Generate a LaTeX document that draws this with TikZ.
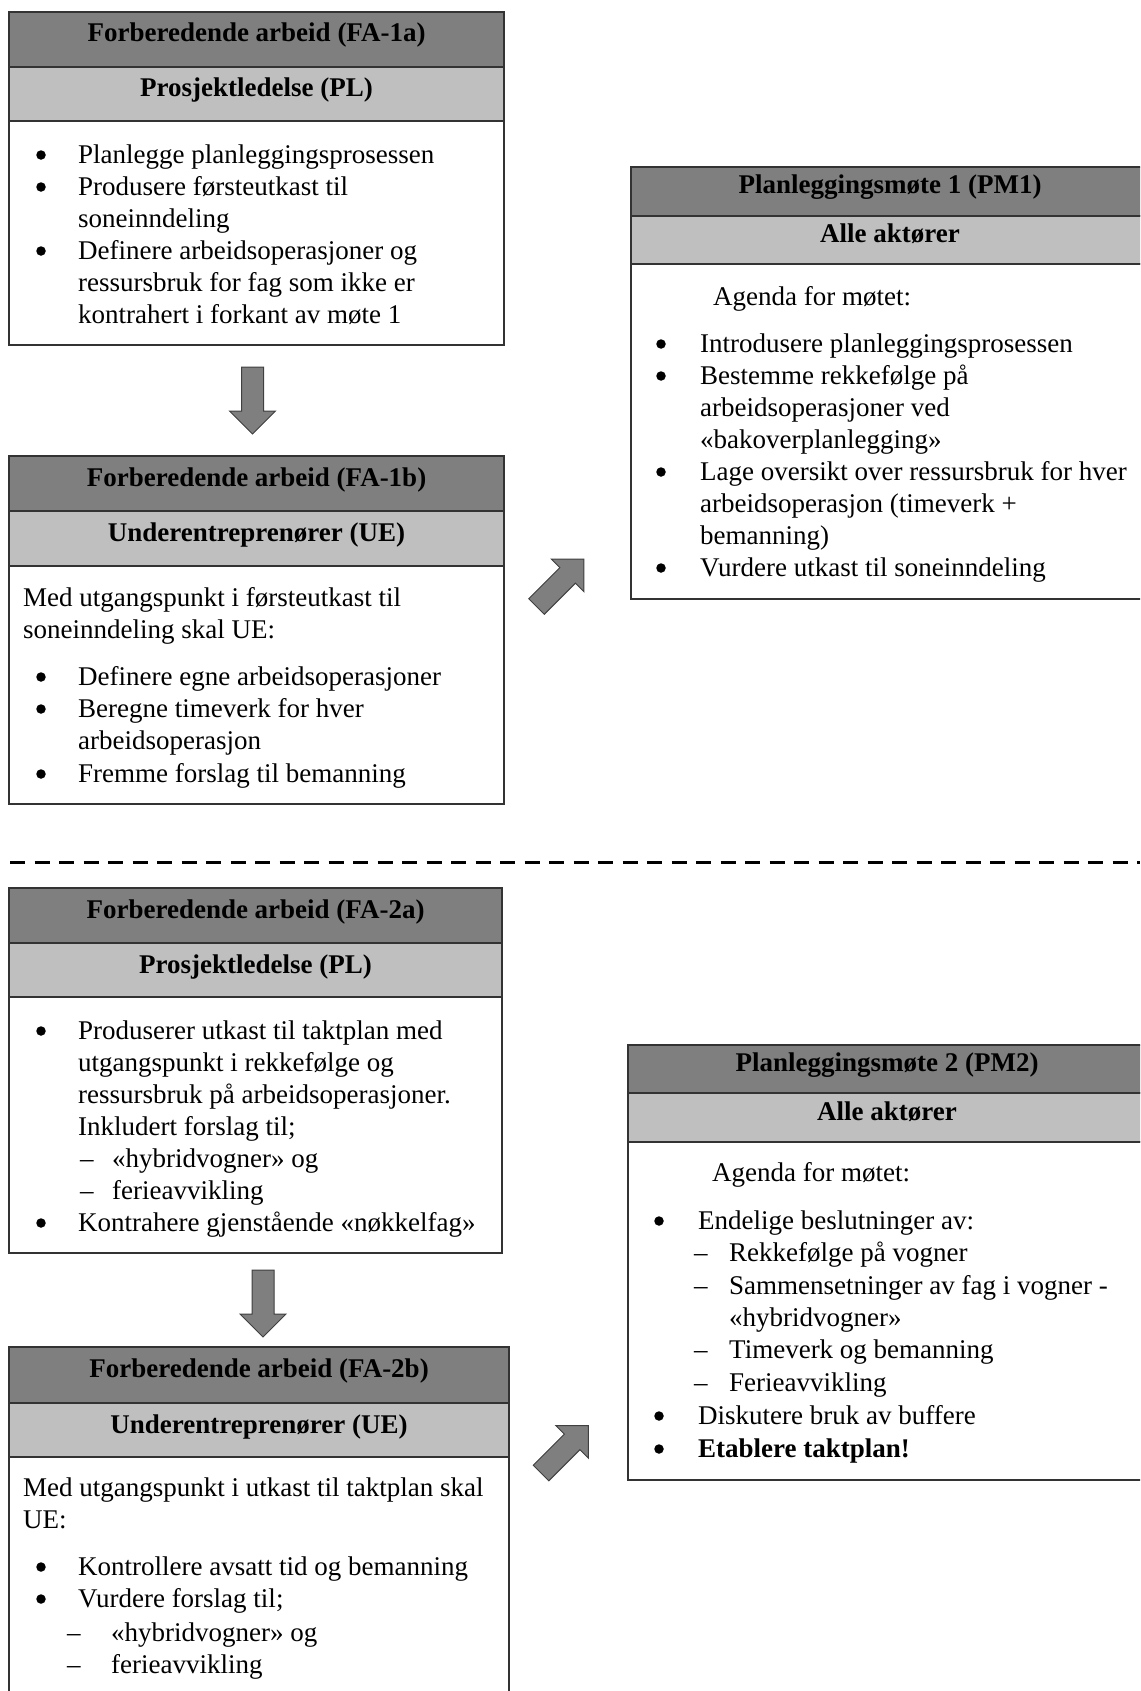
\documentclass[tikz,border=0pt]{standalone}
\usepackage{fontspec}
\setmainfont{Liberation Serif}

\definecolor{bandDark}{HTML}{7F7F7F}
\definecolor{bandLight}{HTML}{BFBFBF}
\definecolor{edge}{HTML}{333333}
\definecolor{arrowFill}{HTML}{7F7F7F}
\definecolor{arrowEdge}{HTML}{404040}

% text size used throughout (1pt of the canvas = 1 unit)
\newcommand\diagfont{\fontsize{27}{32}\selectfont}
% several lines stacked, baseline of the box = baseline of the first line
\newcommand\lns[1]{\vtop{\def\\{\egroup\hbox\bgroup}\hbox\bgroup#1\egroup}}

\tikzset{
  band/.style={draw=edge, line width=1.3pt, anchor=north west,
               inner sep=0pt, outer sep=0pt},
  darkband/.style={band, fill=bandDark},
  lightband/.style={band, fill=bandLight},
  bodyband/.style={band, fill=white},
  bandtext/.style={anchor=base, inner sep=0pt, font=\diagfont\bfseries},
  txt/.style={anchor=base west, inner sep=0pt, font=\diagfont},
  % list bullet, placed at (x, baseline); the dot sits 8 units above the baseline
  blt/.style={circle, fill=black, draw=none, inner sep=0pt, minimum size=9.5pt,
              yshift=8pt},
  arrowshape/.style={fill=arrowFill, draw=arrowEdge, line width=1pt, line join=miter},
  blockarrow/.pic={
    \path[arrowshape] (0,-11) -- (44,-11) -- (44,-23) -- (67,0)
      -- (44,23) -- (44,11) -- (0,11) -- cycle;
  }
}

\begin{document}
\begin{tikzpicture}[x=1pt, y=-1pt]
\useasboundingbox (0,0) rectangle (1140,1691);
\clip (0,0) rectangle (1140,1691);
\fill[white] (0,0) rectangle (1140,1691);

% ---------------- FA-1a ----------------
\node[darkband, minimum width=495, minimum height=55] (fa1aH) at (9,12) {};
\node[lightband, minimum width=495, minimum height=54] (fa1aS) at (fa1aH.south west) {};
\node[bodyband, minimum width=495, minimum height=224] (fa1aB) at (fa1aS.south west) {};
\node[bandtext] (fa1aHt) at ([yshift=-30pt]fa1aH.north) {Forberedende arbeid (FA-1a)};
\node[bandtext] (fa1aSt) at ([yshift=-30pt]fa1aS.north) {Prosjektledelse (PL)};
\node[blt] (fa1aB1) at (41,163) {};
\node[txt] (fa1aI1) at (78,163) {Planlegge planleggingsprosessen};
\node[blt] (fa1aB2) at (41,195) {};
\node[txt] (fa1aI2) at (78,195) {\lns{Produsere førsteutkast til\\soneinndeling}};
\node[blt] (fa1aB3) at (41,259) {};
\node[txt] (fa1aI3) at (78,259) {\lns{Definere arbeidsoperasjoner og\\ressursbruk for fag som ikke er\\kontrahert i forkant av møte 1}};

% ---------------- FA-1b ----------------
\node[darkband, minimum width=495, minimum height=55] (fa1bH) at (9,456) {};
\node[lightband, minimum width=495, minimum height=55] (fa1bS) at (fa1bH.south west) {};
\node[bodyband, minimum width=495, minimum height=238] (fa1bB) at (fa1bS.south west) {};
\node[bandtext] (fa1bHt) at ([yshift=-30pt]fa1bH.north) {Forberedende arbeid (FA-1b)};
\node[bandtext] (fa1bSt) at ([yshift=-30pt]fa1bS.north) {Underentreprenører (UE)};
\node[txt] (fa1bP) at (23,606) {\lns{Med utgangspunkt i førsteutkast til\\soneinndeling skal UE:}};
\node[blt] (fa1bB1) at (41,685) {};
\node[txt] (fa1bI1) at (78,685) {Definere egne arbeidsoperasjoner};
\node[blt] (fa1bB2) at (41,717) {};
\node[txt] (fa1bI2) at (78,717) {\lns{Beregne timeverk for hver\\arbeidsoperasjon}};
\node[blt] (fa1bB3) at (41,782) {};
\node[txt] (fa1bI3) at (78,782) {Fremme forslag til bemanning};

% ---------------- PM1 ----------------
\node[darkband, minimum width=518, minimum height=49] (pm1H) at (631,167) {};
\node[lightband, minimum width=518, minimum height=48] (pm1S) at (pm1H.south west) {};
\node[bodyband, minimum width=518, minimum height=335] (pm1B) at (pm1S.south west) {};
\node[bandtext] (pm1Ht) at ([yshift=-26.5pt]pm1H.north) {Planleggingsmøte 1 (PM1)};
\node[bandtext] (pm1St) at ([yshift=-26pt]pm1S.north) {Alle aktører};
\node[txt] (pm1A) at (713,305) {Agenda for møtet:};
\node[blt] (pm1B1) at (661,352) {};
\node[txt] (pm1I1) at (700,352) {Introdusere planleggingsprosessen};
\node[blt] (pm1B2) at (661,384) {};
\node[txt] (pm1I2) at (700,384) {\lns{Bestemme rekkefølge på\\arbeidsoperasjoner ved\\«bakoverplanlegging»}};
\node[blt] (pm1B3) at (661,480) {};
\node[txt] (pm1I3) at (700,480) {\lns{Lage oversikt over ressursbruk for hver\\arbeidsoperasjon (timeverk +\\bemanning)}};
\node[blt] (pm1B4) at (661,576) {};
\node[txt] (pm1I4) at (700,576) {Vurdere utkast til soneinndeling};

% ---------------- separator ----------------
\draw[black, line width=3pt, dash pattern=on 15pt off 9.5pt] (10,862) -- (1140,862);

% ---------------- FA-2a ----------------
\node[darkband, minimum width=493, minimum height=55] (fa2aH) at (9,888) {};
\node[lightband, minimum width=493, minimum height=54] (fa2aS) at (fa2aH.south west) {};
\node[bodyband, minimum width=493, minimum height=256] (fa2aB) at (fa2aS.south west) {};
\node[bandtext] (fa2aHt) at ([yshift=-30pt]fa2aH.north) {Forberedende arbeid (FA-2a)};
\node[bandtext] (fa2aSt) at ([yshift=-30pt]fa2aS.north) {Prosjektledelse (PL)};
\node[blt] (fa2aB1) at (41,1039) {};
\node[txt] (fa2aI1) at (78,1039) {\lns{Produserer utkast til taktplan med\\utgangspunkt i rekkefølge og\\ressursbruk på arbeidsoperasjoner.\\Inkludert forslag til;}};
\node[txt] (fa2aD1) at (80,1167) {–};
\node[txt] (fa2aS1) at (112,1167) {«hybridvogner» og};
\node[txt] (fa2aD2) at (80,1199) {–};
\node[txt] (fa2aS2) at (112,1199) {ferieavvikling};
\node[blt] (fa2aB2) at (41,1231) {};
\node[txt] (fa2aI2) at (78,1231) {Kontrahere gjenstående «nøkkelfag»};

% ---------------- FA-2b ----------------
\node[darkband, minimum width=500, minimum height=56] (fa2bH) at (9,1347) {};
\node[lightband, minimum width=500, minimum height=54] (fa2bS) at (fa2bH.south west) {};
\node[bodyband, minimum width=500, minimum height=300] (fa2bB) at (fa2bS.south west) {};
\node[bandtext] (fa2bHt) at ([yshift=-30pt]fa2bH.north) {Forberedende arbeid (FA-2b)};
\node[bandtext] (fa2bSt) at ([yshift=-30pt]fa2bS.north) {Underentreprenører (UE)};
\node[txt] (fa2bP) at (23,1496) {\lns{Med utgangspunkt i utkast til taktplan skal\\UE:}};
\node[blt] (fa2bB1) at (41,1575) {};
\node[txt] (fa2bI1) at (78,1575) {Kontrollere avsatt tid og bemanning};
\node[blt] (fa2bB2) at (41,1607) {};
\node[txt] (fa2bI2) at (78,1607) {Vurdere forslag til;};
\node[txt] (fa2bD1) at (67,1641) {–};
\node[txt] (fa2bS1) at (111,1641) {«hybridvogner» og};
\node[txt] (fa2bD2) at (67,1673) {–};
\node[txt] (fa2bS2) at (111,1673) {ferieavvikling};

% ---------------- PM2 ----------------
\node[darkband, minimum width=518, minimum height=48] (pm2H) at (628,1045) {};
\node[lightband, minimum width=518, minimum height=49] (pm2S) at (pm2H.south west) {};
\node[bodyband, minimum width=518, minimum height=338] (pm2B) at (pm2S.south west) {};
\node[bandtext] (pm2Ht) at ([yshift=-26pt]pm2H.north) {Planleggingsmøte 2 (PM2)};
\node[bandtext] (pm2St) at ([yshift=-27pt]pm2S.north) {Alle aktører};
\node[txt] (pm2A) at (712,1181) {Agenda for møtet:};
\node[blt] (pm2B1) at (659,1229) {};
\node[txt] (pm2I1) at (698,1229) {Endelige beslutninger av:};
\node[txt] (pm2D1) at (694,1261) {–};
\node[txt] (pm2S1) at (729,1261) {Rekkefølge på vogner};
\node[txt] (pm2D2) at (694,1294) {–};
\node[txt] (pm2S2) at (729,1294) {\lns{Sammensetninger av fag i vogner -\\«hybridvogner»}};
\node[txt] (pm2D3) at (694,1358) {–};
\node[txt] (pm2S3) at (729,1358) {Timeverk og bemanning};
\node[txt] (pm2D4) at (694,1391) {–};
\node[txt] (pm2S4) at (729,1391) {Ferieavvikling};
\node[blt] (pm2B2) at (659,1424) {};
\node[txt] (pm2I2) at (698,1424) {Diskutere bruk av buffere};
\node[blt] (pm2B3) at (659,1457) {};
\node[txt] (pm2I3) at (698,1457) {\textbf{Etablere taktplan!}};

% ---------------- block arrows ----------------
\pic[rotate=-90] at (252.5,367) {blockarrow};
\pic[rotate=-90] at (263,1270) {blockarrow};
\pic[rotate=45] at (536.5,606.5) {blockarrow};
\pic[rotate=45] at (541,1473) {blockarrow};

\end{tikzpicture}
\end{document}
